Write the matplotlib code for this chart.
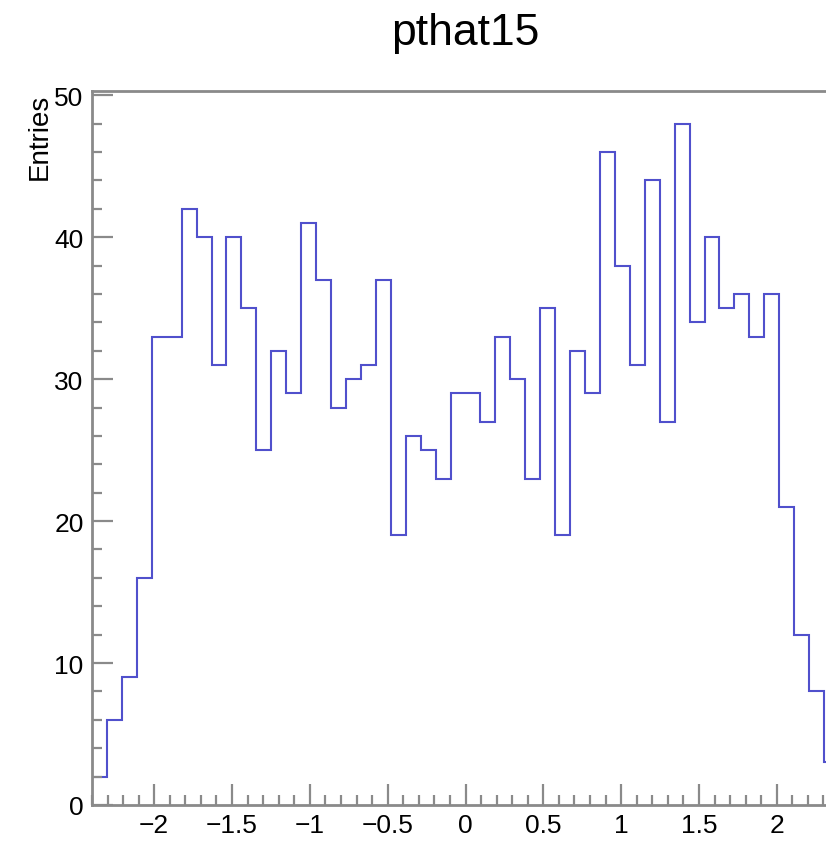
import numpy as np
import matplotlib
matplotlib.use("Agg")
import matplotlib.pyplot as plt
from matplotlib.ticker import MultipleLocator

plt.rcParams.update({"font.family": ["Liberation Sans", "DejaVu Sans"]})

# histogram definition: 50 bins from -2.4 to 2.4
x_min, x_max, n_bins = -2.4, 2.4, 50
entries = [2, 6, 9, 16, 33, 33, 42, 40, 31, 40,
           35, 25, 32, 29, 41, 37, 28, 30, 31, 37,
           19, 26, 25, 23, 29, 29, 27, 33, 30, 23,
           35, 19, 32, 29, 46, 38, 31, 44, 27, 48,
           34, 40, 35, 36, 33, 36, 21, 12, 8, 3]
title = "pthat15"
y_title = "Entries"

W, H = 826, 854
fig = plt.figure(figsize=(W / 100, H / 100), dpi=100)
# axes runs past the right edge of the picture, as in the reference crop
left, bottom, right, top = 92, 806, 839, 92
ax = fig.add_axes([left / W, 1 - bottom / H, (right - left) / W, (bottom - top) / H])

edges = np.linspace(x_min, x_max, n_bins + 1)
ax.stairs(entries, edges, color="#5050cc", lw=1.5, baseline=0)

ax.set_xlim(x_min, x_max)
ax.set_ylim(0, 50.3)
ax.xaxis.set_major_locator(MultipleLocator(0.5))
ax.xaxis.set_minor_locator(MultipleLocator(0.1))
ax.yaxis.set_major_locator(MultipleLocator(10))
ax.yaxis.set_minor_locator(MultipleLocator(2))
ax.xaxis.set_major_formatter(plt.FuncFormatter(lambda v, p: f"{v:g}".replace("-", "\u2212")))

gray = "#8a8a8a"
for s in ax.spines.values():
    s.set_color(gray)
    s.set_linewidth(2)
ax.tick_params(which="both", direction="in", color=gray, width=1.6,
               labelsize=19, top=False, right=False)
ax.tick_params(which="major", length=15)
ax.tick_params(which="minor", length=7.5)
ax.tick_params(axis="x", pad=6)
ax.tick_params(axis="y", pad=6)

fig.text(465 / W, 1 - 33 / H, title, ha="center", va="center", fontsize=32)
fig.text(40 / W, 1 - 94 / H, y_title, rotation=90, ha="center", va="top", fontsize=20)

fig.savefig("out.png", dpi=100, facecolor="white")
